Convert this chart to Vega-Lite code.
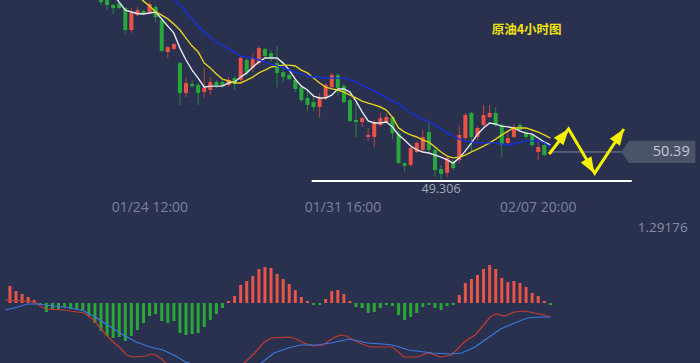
{
"$schema":"https://vega.github.io/schema/vega-lite/v6.json",
"width":700,"height":363,
"autosize":{"type":"fit","contains":"padding"},
"padding":0,
"background":"#29314f",
"config":{"view":{"stroke":null}},
"datasets":{
"candles":[
{"i":15,"o":56.62,"h":56.78,"l":56.12,"c":56.23},
{"i":16,"o":56.39,"h":56.5,"l":55.92,"c":56.12},
{"i":17,"o":56.12,"h":56.16,"l":55.77,"c":56.0},
{"i":18,"o":56.19,"h":56.27,"l":55.96,"c":56.0},
{"i":19,"o":56.0,"h":56.04,"l":54.96,"c":55.15},
{"i":20,"o":55.15,"h":56.0,"l":55.04,"c":55.81},
{"i":21,"o":55.73,"h":56.04,"l":55.69,"c":55.92},
{"i":22,"o":55.89,"h":55.92,"l":55.73,"c":55.81},
{"i":23,"o":55.85,"h":56.23,"l":55.81,"c":56.16},
{"i":24,"o":56.04,"h":56.12,"l":55.46,"c":55.65},
{"i":25,"o":55.54,"h":55.61,"l":54.3,"c":54.34},
{"i":26,"o":54.3,"h":54.53,"l":54.07,"c":54.49},
{"i":27,"o":54.42,"h":54.65,"l":54.38,"c":54.61},
{"i":28,"o":53.87,"h":53.91,"l":52.25,"c":52.71},
{"i":29,"o":52.71,"h":53.29,"l":52.56,"c":53.1},
{"i":30,"o":53.06,"h":53.22,"l":52.91,"c":52.98},
{"i":31,"o":53.02,"h":53.1,"l":52.25,"c":52.71},
{"i":32,"o":52.75,"h":53.68,"l":52.52,"c":52.91},
{"i":33,"o":52.83,"h":53.33,"l":52.64,"c":53.14},
{"i":34,"o":53.14,"h":53.22,"l":52.91,"c":53.02},
{"i":35,"o":53.14,"h":53.22,"l":52.94,"c":53.02},
{"i":36,"o":53.02,"h":53.33,"l":52.94,"c":53.22},
{"i":37,"o":53.29,"h":53.37,"l":52.83,"c":53.06},
{"i":38,"o":53.22,"h":54.14,"l":53.14,"c":54.07},
{"i":39,"o":53.99,"h":54.07,"l":53.41,"c":53.52},
{"i":40,"o":53.68,"h":54.26,"l":53.52,"c":54.07},
{"i":41,"o":53.87,"h":54.53,"l":53.8,"c":54.45},
{"i":42,"o":54.42,"h":54.45,"l":54.11,"c":54.14},
{"i":43,"o":54.26,"h":54.38,"l":53.91,"c":54.07},
{"i":44,"o":53.87,"h":54.53,"l":52.94,"c":53.49},
{"i":45,"o":53.52,"h":53.72,"l":53.14,"c":53.33},
{"i":46,"o":53.41,"h":53.49,"l":53.22,"c":53.25},
{"i":47,"o":53.22,"h":53.29,"l":52.75,"c":52.87},
{"i":48,"o":52.94,"h":53.02,"l":52.36,"c":52.44},
{"i":49,"o":52.52,"h":52.83,"l":52.02,"c":52.25},
{"i":50,"o":52.36,"h":52.71,"l":52.02,"c":52.17},
{"i":51,"o":52.17,"h":52.71,"l":51.78,"c":52.52},
{"i":52,"o":52.52,"h":53.1,"l":52.44,"c":53.02},
{"i":53,"o":52.94,"h":53.49,"l":52.91,"c":53.41},
{"i":54,"o":53.41,"h":53.49,"l":52.64,"c":52.91},
{"i":55,"o":52.98,"h":53.06,"l":52.32,"c":52.36},
{"i":56,"o":52.44,"h":52.52,"l":51.59,"c":51.63},
{"i":57,"o":51.67,"h":52.32,"l":51.01,"c":51.59},
{"i":58,"o":51.59,"h":51.78,"l":51.4,"c":51.74},
{"i":59,"o":51.01,"h":51.36,"l":50.85,"c":51.09},
{"i":60,"o":51.01,"h":51.67,"l":50.62,"c":51.59},
{"i":61,"o":51.47,"h":51.94,"l":51.4,"c":51.74},
{"i":62,"o":51.59,"h":51.94,"l":51.55,"c":51.78},
{"i":63,"o":51.78,"h":51.82,"l":50.93,"c":51.16},
{"i":64,"o":51.16,"h":51.24,"l":49.96,"c":50.0},
{"i":65,"o":50.0,"h":50.04,"l":49.66,"c":49.89},
{"i":66,"o":49.93,"h":50.66,"l":49.85,"c":50.58},
{"i":67,"o":50.43,"h":50.85,"l":50.39,"c":50.78},
{"i":68,"o":50.51,"h":51.28,"l":50.43,"c":51.01},
{"i":69,"o":51.2,"h":51.59,"l":50.43,"c":50.51},
{"i":70,"o":50.51,"h":50.58,"l":49.46,"c":49.73},
{"i":71,"o":49.77,"h":49.93,"l":49.35,"c":49.58},
{"i":72,"o":49.62,"h":50.24,"l":49.46,"c":50.2},
{"i":73,"o":50.04,"h":50.12,"l":49.73,"c":49.81},
{"i":74,"o":50.12,"h":51.47,"l":50.0,"c":51.09},
{"i":75,"o":50.97,"h":51.94,"l":50.89,"c":51.86},
{"i":76,"o":51.94,"h":51.98,"l":50.43,"c":51.01},
{"i":77,"o":51.01,"h":51.43,"l":50.89,"c":51.36},
{"i":78,"o":51.47,"h":52.25,"l":51.4,"c":51.86},
{"i":79,"o":51.78,"h":52.25,"l":51.74,"c":51.94},
{"i":80,"o":51.94,"h":52.17,"l":51.4,"c":51.47},
{"i":81,"o":51.47,"h":51.55,"l":50.24,"c":50.7},
{"i":82,"o":50.78,"h":51.2,"l":50.7,"c":50.97},
{"i":83,"o":51.01,"h":51.51,"l":50.97,"c":51.4},
{"i":84,"o":51.47,"h":51.55,"l":51.2,"c":51.28},
{"i":85,"o":51.2,"h":51.28,"l":50.93,"c":51.01},
{"i":86,"o":51.09,"h":51.16,"l":50.62,"c":50.7},
{"i":87,"o":50.43,"h":50.82,"l":50.12,"c":50.62},
{"i":88,"o":50.7,"h":50.78,"l":50.27,"c":50.31},
{"i":89,"o":50.37,"h":50.43,"l":50.35,"c":50.4}
],
"ma":[
{"i":17,"m":"m5","v":56.5},{"i":18,"m":"m5","v":56.23},{"i":19,"m":"m5","v":55.92},{"i":20,"m":"m5","v":55.85},{"i":21,"m":"m5","v":55.79},{"i":22,"m":"m5","v":55.77},{"i":23,"m":"m5","v":55.81},{"i":24,"m":"m5","v":55.85},{"i":25,"m":"m5","v":55.58},{"i":26,"m":"m5","v":55.3},{"i":27,"m":"m5","v":55.03},{"i":28,"m":"m5","v":54.45},{"i":29,"m":"m5","v":53.99},{"i":30,"m":"m5","v":53.6},{"i":31,"m":"m5","v":53.29},{"i":32,"m":"m5","v":52.94},{"i":33,"m":"m5","v":52.98},{"i":34,"m":"m5","v":52.98},{"i":35,"m":"m5","v":52.98},{"i":36,"m":"m5","v":53.1},{"i":37,"m":"m5","v":53.14},{"i":38,"m":"m5","v":53.33},{"i":39,"m":"m5","v":53.49},{"i":40,"m":"m5","v":53.72},{"i":41,"m":"m5","v":53.91},{"i":42,"m":"m5","v":54.07},{"i":43,"m":"m5","v":54.07},{"i":44,"m":"m5","v":54.07},{"i":45,"m":"m5","v":53.87},{"i":46,"m":"m5","v":53.6},{"i":47,"m":"m5","v":53.25},{"i":48,"m":"m5","v":52.98},{"i":49,"m":"m5","v":52.83},{"i":50,"m":"m5","v":52.59},{"i":51,"m":"m5","v":52.52},{"i":52,"m":"m5","v":52.52},{"i":53,"m":"m5","v":52.63},{"i":54,"m":"m5","v":52.87},{"i":55,"m":"m5","v":52.87},{"i":56,"m":"m5","v":52.75},{"i":57,"m":"m5","v":52.4},{"i":58,"m":"m5","v":51.98},{"i":59,"m":"m5","v":51.63},{"i":60,"m":"m5","v":51.55},{"i":61,"m":"m5","v":51.55},{"i":62,"m":"m5","v":51.59},{"i":63,"m":"m5","v":51.4},{"i":64,"m":"m5","v":51.09},{"i":65,"m":"m5","v":50.89},{"i":66,"m":"m5","v":50.66},{"i":67,"m":"m5","v":50.51},{"i":68,"m":"m5","v":50.43},{"i":69,"m":"m5","v":50.39},{"i":70,"m":"m5","v":50.31},{"i":71,"m":"m5","v":50.23},{"i":72,"m":"m5","v":50.12},{"i":73,"m":"m5","v":50.0},{"i":74,"m":"m5","v":50.2},{"i":75,"m":"m5","v":50.47},{"i":76,"m":"m5","v":50.78},{"i":77,"m":"m5","v":51.12},{"i":78,"m":"m5","v":51.36},{"i":79,"m":"m5","v":51.55},{"i":80,"m":"m5","v":51.51},{"i":81,"m":"m5","v":51.43},{"i":82,"m":"m5","v":51.4},{"i":83,"m":"m5","v":51.36},{"i":84,"m":"m5","v":51.24},{"i":85,"m":"m5","v":51.16},{"i":86,"m":"m5","v":51.12},{"i":87,"m":"m5","v":50.97},{"i":88,"m":"m5","v":50.81},{"i":89,"m":"m5","v":50.7},
{"i":20,"m":"m10","v":56.77},{"i":21,"m":"m10","v":56.5},{"i":22,"m":"m10","v":56.27},{"i":23,"m":"m10","v":56.08},{"i":24,"m":"m10","v":55.85},{"i":25,"m":"m10","v":55.73},{"i":26,"m":"m10","v":55.58},{"i":27,"m":"m10","v":55.38},{"i":28,"m":"m10","v":55.15},{"i":29,"m":"m10","v":54.84},{"i":30,"m":"m10","v":54.53},{"i":31,"m":"m10","v":54.3},{"i":32,"m":"m10","v":53.87},{"i":33,"m":"m10","v":53.68},{"i":34,"m":"m10","v":53.45},{"i":35,"m":"m10","v":53.25},{"i":36,"m":"m10","v":53.18},{"i":37,"m":"m10","v":53.1},{"i":38,"m":"m10","v":53.1},{"i":39,"m":"m10","v":53.21},{"i":40,"m":"m10","v":53.33},{"i":41,"m":"m10","v":53.49},{"i":42,"m":"m10","v":53.6},{"i":43,"m":"m10","v":53.72},{"i":44,"m":"m10","v":53.76},{"i":45,"m":"m10","v":53.79},{"i":46,"m":"m10","v":53.79},{"i":47,"m":"m10","v":53.76},{"i":48,"m":"m10","v":53.6},{"i":49,"m":"m10","v":53.49},{"i":50,"m":"m10","v":53.29},{"i":51,"m":"m10","v":53.1},{"i":52,"m":"m10","v":52.94},{"i":53,"m":"m10","v":52.87},{"i":54,"m":"m10","v":52.83},{"i":55,"m":"m10","v":52.75},{"i":56,"m":"m10","v":52.63},{"i":57,"m":"m10","v":52.52},{"i":58,"m":"m10","v":52.4},{"i":59,"m":"m10","v":52.32},{"i":60,"m":"m10","v":52.25},{"i":61,"m":"m10","v":52.17},{"i":62,"m":"m10","v":52.05},{"i":63,"m":"m10","v":51.78},{"i":64,"m":"m10","v":51.36},{"i":65,"m":"m10","v":51.2},{"i":66,"m":"m10","v":51.09},{"i":67,"m":"m10","v":51.01},{"i":68,"m":"m10","v":50.89},{"i":69,"m":"m10","v":50.81},{"i":70,"m":"m10","v":50.62},{"i":71,"m":"m10","v":50.43},{"i":72,"m":"m10","v":50.27},{"i":73,"m":"m10","v":50.2},{"i":74,"m":"m10","v":50.23},{"i":75,"m":"m10","v":50.31},{"i":76,"m":"m10","v":50.43},{"i":77,"m":"m10","v":50.54},{"i":78,"m":"m10","v":50.66},{"i":79,"m":"m10","v":50.78},{"i":80,"m":"m10","v":50.93},{"i":81,"m":"m10","v":51.09},{"i":82,"m":"m10","v":51.24},{"i":83,"m":"m10","v":51.36},{"i":84,"m":"m10","v":51.36},{"i":85,"m":"m10","v":51.36},{"i":86,"m":"m10","v":51.28},{"i":87,"m":"m10","v":51.2},{"i":88,"m":"m10","v":51.09},{"i":89,"m":"m10","v":50.97},
{"i":26,"m":"m20","v":56.62},{"i":27,"m":"m20","v":56.35},{"i":28,"m":"m20","v":56.12},{"i":29,"m":"m20","v":55.85},{"i":30,"m":"m20","v":55.58},{"i":31,"m":"m20","v":55.3},{"i":32,"m":"m20","v":55.07},{"i":33,"m":"m20","v":54.88},{"i":34,"m":"m20","v":54.69},{"i":35,"m":"m20","v":54.57},{"i":36,"m":"m20","v":54.41},{"i":37,"m":"m20","v":54.3},{"i":38,"m":"m20","v":54.14},{"i":39,"m":"m20","v":54.1},{"i":40,"m":"m20","v":54.07},{"i":41,"m":"m20","v":53.99},{"i":42,"m":"m20","v":53.91},{"i":43,"m":"m20","v":53.83},{"i":44,"m":"m20","v":53.76},{"i":45,"m":"m20","v":53.68},{"i":46,"m":"m20","v":53.6},{"i":47,"m":"m20","v":53.52},{"i":48,"m":"m20","v":53.45},{"i":49,"m":"m20","v":53.37},{"i":50,"m":"m20","v":53.33},{"i":51,"m":"m20","v":53.33},{"i":52,"m":"m20","v":53.29},{"i":53,"m":"m20","v":53.29},{"i":54,"m":"m20","v":53.29},{"i":55,"m":"m20","v":53.29},{"i":56,"m":"m20","v":53.21},{"i":57,"m":"m20","v":53.14},{"i":58,"m":"m20","v":53.02},{"i":59,"m":"m20","v":52.9},{"i":60,"m":"m20","v":52.79},{"i":61,"m":"m20","v":52.67},{"i":62,"m":"m20","v":52.52},{"i":63,"m":"m20","v":52.4},{"i":64,"m":"m20","v":52.29},{"i":65,"m":"m20","v":52.13},{"i":66,"m":"m20","v":51.94},{"i":67,"m":"m20","v":51.82},{"i":68,"m":"m20","v":51.7},{"i":69,"m":"m20","v":51.59},{"i":70,"m":"m20","v":51.47},{"i":71,"m":"m20","v":51.32},{"i":72,"m":"m20","v":51.16},{"i":73,"m":"m20","v":51.05},{"i":74,"m":"m20","v":50.93},{"i":75,"m":"m20","v":50.85},{"i":76,"m":"m20","v":50.81},{"i":77,"m":"m20","v":50.78},{"i":78,"m":"m20","v":50.78},{"i":79,"m":"m20","v":50.78},{"i":80,"m":"m20","v":50.78},{"i":81,"m":"m20","v":50.74},{"i":82,"m":"m20","v":50.7},{"i":83,"m":"m20","v":50.74},{"i":84,"m":"m20","v":50.81},{"i":85,"m":"m20","v":50.85},{"i":86,"m":"m20","v":50.85},{"i":87,"m":"m20","v":50.85},{"i":88,"m":"m20","v":50.78},{"i":89,"m":"m20","v":50.62}
],
"hist":[
{"i":0,"h":0.17},{"i":1,"h":0.12},{"i":2,"h":0.09},{"i":3,"h":0.06},{"i":4,"h":0.03},{"i":5,"h":-0.02},{"i":6,"h":-0.09},{"i":7,"h":-0.06},{"i":8,"h":-0.06},{"i":9,"h":-0.04},{"i":10,"h":-0.06},{"i":11,"h":-0.06},{"i":12,"h":-0.07},{"i":13,"h":-0.13},{"i":14,"h":-0.2},{"i":15,"h":-0.28},{"i":16,"h":-0.33},{"i":17,"h":-0.35},{"i":18,"h":-0.34},{"i":19,"h":-0.38},{"i":20,"h":-0.33},{"i":21,"h":-0.27},{"i":22,"h":-0.2},{"i":23,"h":-0.13},{"i":24,"h":-0.11},{"i":25,"h":-0.18},{"i":26,"h":-0.2},{"i":27,"h":-0.18},{"i":28,"h":-0.3},{"i":29,"h":-0.32},{"i":30,"h":-0.31},{"i":31,"h":-0.3},{"i":32,"h":-0.24},{"i":33,"h":-0.17},{"i":34,"h":-0.11},{"i":35,"h":-0.05},{"i":36,"h":0.02},{"i":37,"h":0.07},{"i":38,"h":0.18},{"i":39,"h":0.22},{"i":40,"h":0.27},{"i":41,"h":0.34},{"i":42,"h":0.36},{"i":43,"h":0.35},{"i":44,"h":0.29},{"i":45,"h":0.24},{"i":46,"h":0.19},{"i":47,"h":0.13},{"i":48,"h":0.06},{"i":49,"h":0.02},{"i":50,"h":-0.02},{"i":51,"h":-0.02},{"i":52,"h":0.04},{"i":53,"h":0.12},{"i":54,"h":0.13},{"i":55,"h":0.09},{"i":56,"h":0.02},{"i":57,"h":-0.04},{"i":58,"h":-0.05},{"i":59,"h":-0.1},{"i":60,"h":-0.09},{"i":61,"h":-0.05},{"i":62,"h":-0.02},{"i":63,"h":-0.03},{"i":64,"h":-0.12},{"i":65,"h":-0.17},{"i":66,"h":-0.14},{"i":67,"h":-0.1},{"i":68,"h":-0.04},{"i":69,"h":-0.02},{"i":70,"h":-0.05},{"i":71,"h":-0.07},{"i":72,"h":-0.03},{"i":73,"h":-0.02},{"i":74,"h":0.08},{"i":75,"h":0.2},{"i":76,"h":0.24},{"i":77,"h":0.28},{"i":78,"h":0.34},{"i":79,"h":0.38},{"i":80,"h":0.34},{"i":81,"h":0.25},{"i":82,"h":0.21},{"i":83,"h":0.22},{"i":84,"h":0.2},{"i":85,"h":0.16},{"i":86,"h":0.1},{"i":87,"h":0.07},{"i":88,"h":0.02},{"i":89,"h":-0.02}
],
"macd":[
{"t":-0.8,"k":"dif","v":0.03},{"t":2.4,"k":"dif","v":0.02},{"t":4.1,"k":"dif","v":0.01},{"t":5.2,"k":"dif","v":-0.04},{"t":6.0,"k":"dif","v":-0.06},{"t":8.9,"k":"dif","v":-0.07},{"t":12.2,"k":"dif","v":-0.1},{"t":13.8,"k":"dif","v":-0.17},{"t":15.4,"k":"dif","v":-0.29},{"t":17.0,"k":"dif","v":-0.39},{"t":18.2,"k":"dif","v":-0.45},{"t":19.2,"k":"dif","v":-0.52},{"t":20.3,"k":"dif","v":-0.54},{"t":22.4,"k":"dif","v":-0.53},{"t":23.2,"k":"dif","v":-0.51},{"t":24.0,"k":"dif","v":-0.52},{"t":25.2,"k":"dif","v":-0.57},{"t":25.6,"k":"dif","v":-0.6},{"t":29.2,"k":"dif","v":-0.69},{"t":32.5,"k":"dif","v":-0.72},{"t":35.7,"k":"dif","v":-0.68},{"t":38.6,"k":"dif","v":-0.6},{"t":40.3,"k":"dif","v":-0.5},{"t":41.9,"k":"dif","v":-0.39},{"t":43.0,"k":"dif","v":-0.35},{"t":45.8,"k":"dif","v":-0.34},{"t":46.8,"k":"dif","v":-0.35},{"t":48.4,"k":"dif","v":-0.4},{"t":50.0,"k":"dif","v":-0.43},{"t":51.6,"k":"dif","v":-0.42},{"t":53.2,"k":"dif","v":-0.35},{"t":54.4,"k":"dif","v":-0.32},{"t":55.5,"k":"dif","v":-0.33},{"t":56.0,"k":"dif","v":-0.35},{"t":57.6,"k":"dif","v":-0.4},{"t":59.3,"k":"dif","v":-0.44},{"t":61.4,"k":"dif","v":-0.44},{"t":63.0,"k":"dif","v":-0.44},{"t":64.9,"k":"dif","v":-0.54},{"t":66.9,"k":"dif","v":-0.54},{"t":69.0,"k":"dif","v":-0.5},{"t":70.9,"k":"dif","v":-0.54},{"t":72.7,"k":"dif","v":-0.52},{"t":75.0,"k":"dif","v":-0.38},{"t":76.6,"k":"dif","v":-0.32},{"t":77.6,"k":"dif","v":-0.25},{"t":79.1,"k":"dif","v":-0.14},{"t":80.0,"k":"dif","v":-0.11},{"t":81.5,"k":"dif","v":-0.13},{"t":83.1,"k":"dif","v":-0.09},{"t":84.7,"k":"dif","v":-0.08},{"t":86.4,"k":"dif","v":-0.1},{"t":88.0,"k":"dif","v":-0.12},{"t":89.0,"k":"dif","v":-0.14},
{"t":-0.8,"k":"dea","v":-0.07},{"t":1.3,"k":"dea","v":-0.04},{"t":2.9,"k":"dea","v":-0.01},{"t":4.5,"k":"dea","v":-0.01},{"t":7.3,"k":"dea","v":-0.03},{"t":10.1,"k":"dea","v":-0.05},{"t":12.2,"k":"dea","v":-0.08},{"t":14.3,"k":"dea","v":-0.15},{"t":16.6,"k":"dea","v":-0.24},{"t":18.7,"k":"dea","v":-0.32},{"t":20.8,"k":"dea","v":-0.39},{"t":23.1,"k":"dea","v":-0.44},{"t":25.2,"k":"dea","v":-0.47},{"t":27.3,"k":"dea","v":-0.53},{"t":28.9,"k":"dea","v":-0.59},{"t":32.5,"k":"dea","v":-0.65},{"t":36.5,"k":"dea","v":-0.67},{"t":39.8,"k":"dea","v":-0.64},{"t":41.4,"k":"dea","v":-0.6},{"t":43.5,"k":"dea","v":-0.5},{"t":45.8,"k":"dea","v":-0.45},{"t":47.9,"k":"dea","v":-0.42},{"t":50.6,"k":"dea","v":-0.42},{"t":52.8,"k":"dea","v":-0.4},{"t":54.4,"k":"dea","v":-0.38},{"t":56.0,"k":"dea","v":-0.36},{"t":58.8,"k":"dea","v":-0.4},{"t":61.4,"k":"dea","v":-0.41},{"t":63.0,"k":"dea","v":-0.42},{"t":65.7,"k":"dea","v":-0.47},{"t":69.5,"k":"dea","v":-0.5},{"t":72.7,"k":"dea","v":-0.51},{"t":74.4,"k":"dea","v":-0.5},{"t":76.6,"k":"dea","v":-0.44},{"t":78.7,"k":"dea","v":-0.35},{"t":80.8,"k":"dea","v":-0.26},{"t":83.1,"k":"dea","v":-0.2},{"t":85.2,"k":"dea","v":-0.15},{"t":87.3,"k":"dea","v":-0.14},{"t":89.0,"k":"dea","v":-0.14}
],
"arrow":[
{"k":0,"i":88.8,"p":50.35},{"k":1,"i":92.0,"p":51.32},{"k":2,"i":96.3,"p":49.61},{"k":3,"i":101.1,"p":51.32}
]
},
"layer":[
{
"layer":[
{"mark":{"type":"rule","color":"#a9abb7","strokeWidth":1},
 "encoding":{"y":{"datum":52.25,"type":"quantitative","scale":{"domain":[42.26,56.313],"nice":false,"zero":false},"axis":null}}},
{"data":{"name":"candles"},"mark":{"type":"rule","strokeWidth":1,"clip":true},
 "encoding":{
  "x":{"field":"i","type":"quantitative","scale":{"domain":[-0.81,112.82],"nice":false,"zero":false},"axis":null},
  "y":{"field":"l","type":"quantitative","scale":{"domain":[42.26,56.313],"nice":false,"zero":false},"axis":null},
  "y2":{"field":"h"},
  "color":{"condition":{"test":"datum.c >= datum.o","value":"#b8453d"},"value":"#21873a"}}},
{"data":{"name":"candles"},"mark":{"type":"bar","size":4,"orient":"vertical","clip":true},
 "encoding":{
  "x":{"field":"i","type":"quantitative","scale":{"domain":[-0.81,112.82],"nice":false,"zero":false},"axis":null},
  "y":{"field":"o","type":"quantitative","scale":{"domain":[42.26,56.313],"nice":false,"zero":false},"axis":null},
  "y2":{"field":"c"},
  "color":{"condition":{"test":"datum.c >= datum.o","value":"#eb5247"},"value":"#28a83b"}}},
{"data":{"name":"ma"},"mark":{"type":"line","strokeWidth":1.4,"clip":true},
 "encoding":{
  "x":{"field":"i","type":"quantitative","scale":{"domain":[-0.81,112.82],"nice":false,"zero":false},"axis":null},
  "y":{"field":"v","type":"quantitative","scale":{"domain":[42.26,56.313],"nice":false,"zero":false},"axis":null},
  "color":{"field":"m","type":"nominal","scale":{"domain":["m5","m10","m20"],"range":["#e8e8ee","#e6d21e","#1530e0"]},"legend":null}}},
{"data":{"values":[{"a":49.7,"b":102.4,"p":49.306}]},"mark":{"type":"rule","color":"#ffffff","strokeWidth":2},
 "encoding":{
  "x":{"field":"a","type":"quantitative","scale":{"domain":[-0.81,112.82],"nice":false,"zero":false},"axis":null},
  "x2":{"field":"b"},
  "y":{"field":"p","type":"quantitative","scale":{"domain":[42.26,56.313],"nice":false,"zero":false},"axis":null}}},
{"data":{"values":[{"a":89,"b":101.5,"p":50.43}]},"mark":{"type":"rule","color":"#7d8496","strokeWidth":1},
 "encoding":{
  "x":{"field":"a","type":"quantitative","scale":{"domain":[-0.81,112.82],"nice":false,"zero":false},"axis":null},
  "x2":{"field":"b"},
  "y":{"field":"p","type":"quantitative","scale":{"domain":[42.26,56.313],"nice":false,"zero":false},"axis":null}}},
{"data":{"values":[{"i":106.8,"p":50.43}]},"mark":{"type":"point","shape":"M-1,0L-0.8,-0.3L1,-0.3L1,0.3L-0.8,0.3Z","size":5476,"filled":true,"color":"#4b5369","opacity":1,"strokeWidth":0},
 "encoding":{
  "x":{"field":"i","type":"quantitative","scale":{"domain":[-0.81,112.82],"nice":false,"zero":false},"axis":null},
  "y":{"field":"p","type":"quantitative","scale":{"domain":[42.26,56.313],"nice":false,"zero":false},"axis":null}}},
{"data":{"values":[{"i":108.9,"p":50.43,"s":"50.39"}]},"mark":{"type":"text","font":"Open Sans","fontSize":14.5,"color":"#c5c8d2","align":"center","baseline":"middle"},
 "encoding":{
  "x":{"field":"i","type":"quantitative","scale":{"domain":[-0.81,112.82],"nice":false,"zero":false},"axis":null},
  "y":{"field":"p","type":"quantitative","scale":{"domain":[42.26,56.313],"nice":false,"zero":false},"axis":null},
  "text":{"field":"s"}}},
{"data":{"values":[{"i":71.0,"p":49.0,"s":"49.306"}]},"mark":{"type":"text","font":"Open Sans","fontSize":12.5,"color":"#a3a7b4","align":"center","baseline":"middle"},
 "encoding":{
  "x":{"field":"i","type":"quantitative","scale":{"domain":[-0.81,112.82],"nice":false,"zero":false},"axis":null},
  "y":{"field":"p","type":"quantitative","scale":{"domain":[42.26,56.313],"nice":false,"zero":false},"axis":null},
  "text":{"field":"s"}}},
{"data":{"values":[{"i":23.05,"p":48.26,"s":"01/24 12:00"},{"i":54.87,"p":48.26,"s":"01/31 16:00"},{"i":87.0,"p":48.26,"s":"02/07 20:00"}]},"mark":{"type":"text","font":"Open Sans","fontSize":14,"color":"#7a819f","align":"center","baseline":"middle"},
 "encoding":{
  "x":{"field":"i","type":"quantitative","scale":{"domain":[-0.81,112.82],"nice":false,"zero":false},"axis":null},
  "y":{"field":"p","type":"quantitative","scale":{"domain":[42.26,56.313],"nice":false,"zero":false},"axis":null},
  "text":{"field":"s"}}},
{"data":{"values":[{"i":107.5,"p":47.49,"s":"1.29176"}]},"mark":{"type":"text","font":"Open Sans","fontSize":13.5,"color":"#878da5","align":"center","baseline":"middle"},
 "encoding":{
  "x":{"field":"i","type":"quantitative","scale":{"domain":[-0.81,112.82],"nice":false,"zero":false},"axis":null},
  "y":{"field":"p","type":"quantitative","scale":{"domain":[42.26,56.313],"nice":false,"zero":false},"axis":null},
  "text":{"field":"s"}}},
{"data":{"values":[{"i":85.1,"p":55.15,"s":"原油4小时图"}]},"mark":{"type":"text","font":"Noto Sans CJK SC","fontSize":12.5,"fontWeight":"bold","color":"#f0e010","align":"center","baseline":"middle"},
 "encoding":{
  "x":{"field":"i","type":"quantitative","scale":{"domain":[-0.81,112.82],"nice":false,"zero":false},"axis":null},
  "y":{"field":"p","type":"quantitative","scale":{"domain":[42.26,56.313],"nice":false,"zero":false},"axis":null},
  "text":{"field":"s"}}},
{"data":{"name":"arrow"},"mark":{"type":"line","color":"#f5ef00","strokeWidth":3},
 "encoding":{
  "x":{"field":"i","type":"quantitative","scale":{"domain":[-0.81,112.82],"nice":false,"zero":false},"axis":null},
  "y":{"field":"p","type":"quantitative","scale":{"domain":[42.26,56.313],"nice":false,"zero":false},"axis":null},
  "order":{"field":"k"}}},
{"data":{"values":[{"i":91.0,"p":51.02}]},"mark":{"type":"point","shape":"M0,-1L0.6,0.6L-0.6,0.6Z","size":420,"filled":true,"color":"#f5ef00","opacity":1,"angle":38.7,"strokeWidth":0},
 "encoding":{
  "x":{"field":"i","type":"quantitative","scale":{"domain":[-0.81,112.82],"nice":false,"zero":false},"axis":null},
  "y":{"field":"p","type":"quantitative","scale":{"domain":[42.26,56.313],"nice":false,"zero":false},"axis":null}}},
{"data":{"values":[{"i":95.4,"p":49.94}]},"mark":{"type":"point","shape":"M0,-1L0.6,0.6L-0.6,0.6Z","size":420,"filled":true,"color":"#f5ef00","opacity":1,"angle":149.4,"strokeWidth":0},
 "encoding":{
  "x":{"field":"i","type":"quantitative","scale":{"domain":[-0.81,112.82],"nice":false,"zero":false},"axis":null},
  "y":{"field":"p","type":"quantitative","scale":{"domain":[42.26,56.313],"nice":false,"zero":false},"axis":null}}},
{"data":{"values":[{"i":100.2,"p":51.0}]},"mark":{"type":"point","shape":"M0,-1L0.6,0.6L-0.6,0.6Z","size":420,"filled":true,"color":"#f5ef00","opacity":1,"angle":34.3,"strokeWidth":0},
 "encoding":{
  "x":{"field":"i","type":"quantitative","scale":{"domain":[-0.81,112.82],"nice":false,"zero":false},"axis":null},
  "y":{"field":"p","type":"quantitative","scale":{"domain":[42.26,56.313],"nice":false,"zero":false},"axis":null}}}
]
},
{
"layer":[
{"data":{"name":"hist"},"mark":{"type":"bar","size":3,"orient":"vertical"},
 "encoding":{
  "x":{"field":"i","type":"quantitative","scale":{"domain":[-0.81,112.82],"nice":false,"zero":false},"axis":null},
  "y":{"field":"h","type":"quantitative","scale":{"domain":[-0.6,3.03],"nice":false,"zero":false},"axis":null},
  "y2":{"datum":0},
  "color":{"condition":{"test":"datum.h >= 0","value":"#e85447"},"value":"#2aa836"}}},
{"data":{"name":"macd"},"mark":{"type":"line","strokeWidth":1.2,"clip":true},
 "encoding":{
  "x":{"field":"t","type":"quantitative","scale":{"domain":[-0.81,112.82],"nice":false,"zero":false},"axis":null},
  "y":{"field":"v","type":"quantitative","scale":{"domain":[-0.6,3.03],"nice":false,"zero":false},"axis":null},
  "color":{"field":"k","type":"nominal","scale":{"domain":["dif","dea"],"range":["#c23b30","#3b78e0"]},"legend":null}}}
]
}
],
"resolve":{"scale":{"y":"independent","color":"independent"}}
}
